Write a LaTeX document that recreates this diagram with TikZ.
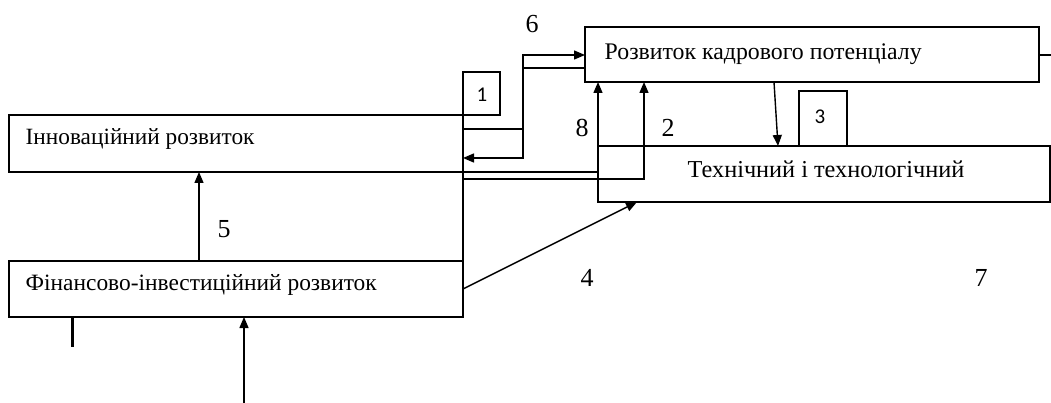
\documentclass[tikz,border=0pt]{standalone}
\usepackage{fontspec}
\setmainfont{Liberation Serif}
\newfontfamily\sansdig{Carlito}
\usetikzlibrary{arrows.meta}
\begin{document}
\begin{tikzpicture}[x=1pt,y=-1pt,
  line width=1.4pt,
  box/.style={draw,rectangle,inner sep=0pt,outer sep=0pt,line width=1.4pt},
  arr/.style={-{Triangle[length=11pt,width=9pt]}},
  txt/.style={anchor=base west,inner sep=0pt},
  num/.style={inner sep=0pt,font=\fontsize{26}{28}\selectfont},
  snum/.style={inner sep=0pt,font=\sansdig\fontsize{21}{24}\selectfont}]
\useasboundingbox (0,0) rectangle (1051,403);
% boxes
\node[box,minimum width=454pt,minimum height=57pt] (inn) at (236,143.5) {};
\node[box,minimum width=454pt,minimum height=56pt] (fin) at (236,289) {};
\node[box,minimum width=454pt,minimum height=55pt] (kadr) at (812,54.5) {};
\node[box,minimum width=452pt,minimum height=56pt] (tech) at (824,174) {};
\node[box,minimum width=37pt,minimum height=43pt] (b1) at (481.5,93.5) {};
\node[box,minimum width=48pt,minimum height=55pt] (b3) at (823,118.5) {};
% texts
\node[txt,font=\fontsize{23.3}{26}\selectfont] (tinn) at (25,145) {Інноваційний розвиток};
\node[txt,font=\fontsize{23.4}{26}\selectfont] (tfin) at (25,290) {Фінансово-інвестиційний розвиток};
\node[txt,font=\fontsize{23.8}{26}\selectfont] (tkadr) at (604,60) {Розвиток кадрового потенціалу};
\node[txt,font=\fontsize{24.3}{26}\selectfont] (ttech) at (687,178) {Технічний і технологічний};
% numbers
\node[snum] (n1) at (482,95) {1};
\node[snum] (n3) at (820,117) {3};
\node[num] (n6) at (532,24) {6};
\node[num] (n8) at (582,128) {8};
\node[num] (n2) at (668,128) {2};
\node[num] (n5) at (224,229) {5};
\node[num] (n4) at (587,278) {4};
\node[num] (n7) at (981,278) {7};
% coordinates
\coordinate (src) at (244,403);
\coordinate (outr) at (1051,55);
% connectors
\draw (inn.south east) -- (fin.north east);
\draw[arr] (inn.east |- 0,129) -- (523,129) -- (523,55) -- (kadr.west |- 0,55);
\draw[arr] (kadr.west |- 0,68) -- (523,68) -- (523,158) -- (inn.east |- 0,158);
\draw (inn.south east) -- (tech.west |- inn.south east);
\draw[arr] (fin.north east |- 0,179) -- (644,179) -- (644,0 |- kadr.south);
\draw[arr] (tech.south west) -- (tech.south west |- kadr.south);
\draw[arr] (774,0 |- kadr.south) -- (778,0 |- tech.north);
\draw[arr] (fin.east) -- (637,0 |- tech.south);
\draw[arr] (199,0 |- fin.north) -- (199,0 |- inn.south);
\draw[arr] (src) -- (src |- fin.south);
\draw[line width=3pt] (72,0 |- fin.south) -- (72,347);
\draw (kadr.east |- outr) -- (outr);
\end{tikzpicture}
\end{document}
